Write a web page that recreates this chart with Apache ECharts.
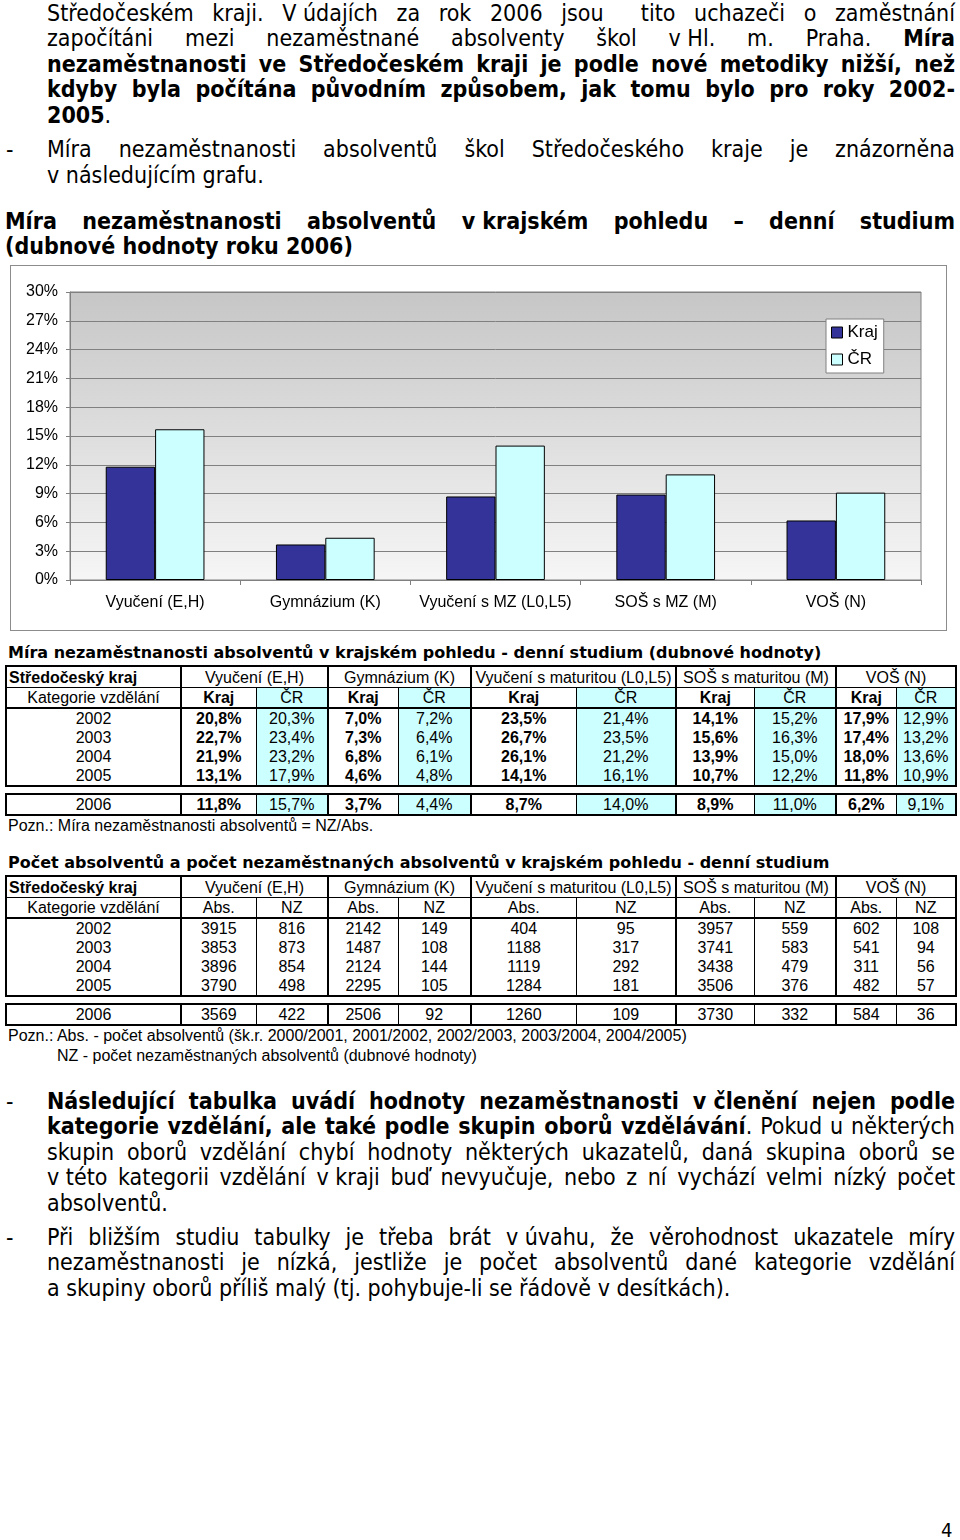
<!DOCTYPE html>
<html><head><meta charset="utf-8">
<script src="https://cdn.jsdelivr.net/npm/echarts@6/dist/echarts.min.js"></script>
<style>
html,body{margin:0;padding:0;background:#fff;}
body{position:relative;width:960px;height:1540px;overflow:hidden;color:#000;}
.ln{position:absolute;height:26px;line-height:26px;white-space:nowrap;font-family:"DejaVu Sans Condensed","DejaVu Sans",sans-serif;font-stretch:condensed;font-size:23px;}
.j{text-align:justify;text-align-last:justify;}
.ib{display:inline-block;}
.tt{position:absolute;left:8px;font-family:"DejaVu Sans",sans-serif;font-weight:bold;font-size:16px;white-space:nowrap;line-height:20px;height:20px;}
.pz{position:absolute;font-family:"Liberation Sans",Arial,sans-serif;font-size:16px;white-space:nowrap;line-height:20px;height:20px;}
table.t{position:absolute;left:5px;width:950px;border-collapse:collapse;table-layout:fixed;border:2px solid #000;font-family:"Liberation Sans",Arial,sans-serif;font-size:16px;}
table.t td{padding:0;border:0;text-align:center;height:19px;line-height:19px;white-space:nowrap;overflow:hidden;}
table.t td.g{border-left:2px solid #000;}
table.t td.s{border-left:1px solid #000;}
table.t tr.h1 td{border-bottom:1px solid #000;height:20px;}
table.t tr.h2 td{border-bottom:2px solid #000;}
table.t td.l{text-align:left;padding-left:2px;}
table.t .b{font-weight:bold;}
table.t .cy{background:#CCFFFF;}
#chart{position:absolute;left:10px;top:265px;width:937px;height:366px;box-sizing:border-box;border:1px solid #8c8c8c;}
</style></head>
<body>
<!-- paragraph 1 -->
<div class="ln j" style="left:47px;width:908px;top:0px">Středočeském kraji. <span class="ib">V&nbsp;údajích</span> za rok 2006 jsou&nbsp; tito uchazeči o zaměstnání</div>
<div class="ln j" style="left:47px;width:908px;top:25px">započítáni mezi nezaměstnané absolventy škol <span class="ib">v&nbsp;Hl.</span> m. Praha. <b>Míra</b></div>
<div class="ln j" style="left:47px;width:908px;top:51px"><b>nezaměstnanosti ve Středočeském kraji je podle nové metodiky nižší, než</b></div>
<div class="ln j" style="left:47px;width:908px;top:76px"><b>kdyby byla počítána původním způsobem, jak tomu bylo pro roky 2002-</b></div>
<div class="ln" style="left:47px;top:102px"><b>2005</b>.</div>
<!-- bullet -->
<div class="ln" style="left:6px;top:136px">-</div>
<div class="ln j" style="left:47px;width:908px;top:136px">Míra nezaměstnanosti absolventů škol Středočeského kraje je znázorněna</div>
<div class="ln" style="left:47px;top:162px"><span class="ib">v&nbsp;následujícím</span> grafu.</div>
<!-- chart title -->
<div class="ln j" style="left:5px;width:950px;top:208px"><b>Míra nezaměstnanosti absolventů <span class="ib">v&nbsp;krajském</span> pohledu – denní studium</b></div>
<div class="ln" style="left:5px;top:233px"><b>(dubnové hodnoty roku 2006)</b></div>

<div id="chart"></div>

<div class="tt" style="top:643px">Míra nezaměstnanosti absolventů v krajském pohledu - denní studium (dubnové hodnoty)</div>
<div id="t1"></div>
<div class="pz" style="left:8px;top:816px">Pozn.: Míra nezaměstnanosti absolventů = NZ/Abs.</div>

<div class="tt" style="top:853px">Počet absolventů a počet nezaměstnaných absolventů v krajském pohledu - denní studium</div>
<div id="t2"></div>
<div class="pz" style="left:8px;top:1026px">Pozn.: Abs. - počet absolventů (šk.r. 2000/2001, 2001/2002, 2002/2003, 2003/2004, 2004/2005)</div>
<div class="pz" style="left:57px;top:1046px">NZ - počet nezaměstnaných absolventů (dubnové hodnoty)</div>

<!-- bottom bullets -->
<div class="ln" style="left:6px;top:1088px">-</div>
<div class="ln j" style="left:47px;width:908px;top:1088px"><b>Následující tabulka uvádí hodnoty nezaměstnanosti <span class="ib">v&nbsp;členění</span> nejen podle</b></div>
<div class="ln j" style="left:47px;width:908px;top:1113px"><b>kategorie vzdělání, ale také podle skupin oborů vzdělávání</b>. Pokud u některých</div>
<div class="ln j" style="left:47px;width:908px;top:1139px">skupin oborů vzdělání chybí hodnoty některých ukazatelů, daná skupina oborů se</div>
<div class="ln j" style="left:47px;width:908px;top:1164px"><span class="ib">v&nbsp;této</span> kategorii vzdělání <span class="ib">v&nbsp;kraji</span> buď nevyučuje, nebo z ní vychází velmi nízký počet</div>
<div class="ln" style="left:47px;top:1190px">absolventů.</div>
<div class="ln" style="left:6px;top:1224px">-</div>
<div class="ln j" style="left:47px;width:908px;top:1224px">Při bližším studiu tabulky je třeba brát <span class="ib">v&nbsp;úvahu,</span> že věrohodnost ukazatele míry</div>
<div class="ln j" style="left:47px;width:908px;top:1249px">nezaměstnanosti je nízká, jestliže je počet absolventů dané kategorie vzdělání</div>
<div class="ln" style="left:47px;top:1275px">a skupiny oborů příliš malý (tj. pohybuje-li se řádově <span class="ib">v&nbsp;desítkách).</span></div>

<div class="ln" style="left:941px;top:1517px;font-size:20px;font-stretch:normal;">4</div>

<script>
// ---- chart data (dubnové hodnoty roku 2006) ----
const categories = ['Vyučení (E,H)', 'Gymnázium (K)', 'Vyučení s MZ (L0,L5)', 'SOŠ s MZ (M)', 'VOŠ (N)'];
const krajValues = [11.8, 3.7, 8.7, 8.9, 6.2];
const crValues = [15.7, 4.4, 14.0, 11.0, 9.1];
const seriesNames = ['Kraj', 'ČR'];
const yMin = 0, yMax = 30, yStep = 3;

// ---- table data ----
const tableGroups = ['Vyučení (E,H)', 'Gymnázium (K)', 'Vyučení s maturitou (L0,L5)', 'SOŠ s maturitou (M)', 'VOŠ (N)'];
const years = ['2002', '2003', '2004', '2005', '2006'];
const rateKraj = [
  [20.8, 7.0, 23.5, 14.1, 17.9],
  [22.7, 7.3, 26.7, 15.6, 17.4],
  [21.9, 6.8, 26.1, 13.9, 18.0],
  [13.1, 4.6, 14.1, 10.7, 11.8],
  [11.8, 3.7, 8.7, 8.9, 6.2]
];
const rateCR = [
  [20.3, 7.2, 21.4, 15.2, 12.9],
  [23.4, 6.4, 23.5, 16.3, 13.2],
  [23.2, 6.1, 21.2, 15.0, 13.6],
  [17.9, 4.8, 16.1, 12.2, 10.9],
  [15.7, 4.4, 14.0, 11.0, 9.1]
];
const absCount = [
  [3915, 2142, 404, 3957, 602],
  [3853, 1487, 1188, 3741, 541],
  [3896, 2124, 1119, 3438, 311],
  [3790, 2295, 1284, 3506, 482],
  [3569, 2506, 1260, 3730, 584]
];
const nzCount = [
  [816, 149, 95, 559, 108],
  [873, 108, 317, 583, 94],
  [854, 144, 292, 479, 56],
  [498, 105, 181, 376, 57],
  [422, 92, 109, 332, 36]
];

// ---- tables ----
const colW = [175, 75, 72, 70, 73, 105, 100, 78, 82, 60, 60];
function pct(v) { return v.toFixed(1).replace('.', ',') + '%'; }
function colgroup() { return '<colgroup>' + colW.map(w => '<col style="width:' + w + 'px">').join('') + '</colgroup>'; }
function buildTables(id, top1, top2, subA, subB, valsA, valsB, fmt, boldA, cyanB) {
  let h = '<table class="t" style="top:' + top1 + 'px">' + colgroup();
  h += '<tr class="h1"><td class="l b">Středočeský kraj</td>' + tableGroups.map(g => '<td colspan="2" class="g">' + g + '</td>').join('') + '</tr>';
  h += '<tr class="h2"><td>Kategorie vzdělání</td>' + tableGroups.map(() =>
    '<td class="g' + (boldA ? ' b' : '') + '">' + subA + '</td><td class="s' + (cyanB ? ' cy' : '') + '">' + subB + '</td>').join('') + '</tr>';
  function row(i) {
    return '<tr><td>' + years[i] + '</td>' + tableGroups.map((g, k) =>
      '<td class="g' + (boldA ? ' b' : '') + '">' + fmt(valsA[i][k]) + '</td><td class="s' + (cyanB ? ' cy' : '') + '">' + fmt(valsB[i][k]) + '</td>').join('') + '</tr>';
  }
  for (let i = 0; i < 4; i++) h += row(i);
  h += '</table>';
  h += '<table class="t" style="top:' + top2 + 'px">' + colgroup() + row(4) + '</table>';
  document.getElementById(id).innerHTML = h;
}
buildTables('t1', 665, 793, 'Kraj', 'ČR', rateKraj, rateCR, pct, true, true);
buildTables('t2', 875, 1003, 'Abs.', 'NZ', absCount, nzCount, v => String(v), false, false);

// ---- chart ----
const chart = echarts.init(document.getElementById('chart'), null, { renderer: 'canvas' });
const font = 'Liberation Sans';
chart.setOption({
  animation: false,
  grid: {
    left: 59, top: 26, width: 851, height: 288, show: true,
    backgroundColor: new echarts.graphic.LinearGradient(0, 0, 0, 1, [
      { offset: 0, color: '#c6c6c6' }, { offset: 1, color: '#f6f6f6' }
    ]),
    borderColor: '#808080', borderWidth: 1
  },
  legend: {
    orient: 'vertical', left: 815, top: 53,
    data: seriesNames,
    icon: 'rect', itemWidth: 11, itemHeight: 11, itemGap: 10,
    padding: [5, 6, 5, 5],
    backgroundColor: '#fff', borderColor: '#808080', borderWidth: 1,
    textStyle: { fontFamily: font, fontSize: 17, color: '#000' },
    itemStyle: { borderColor: '#000', borderWidth: 1 }
  },
  xAxis: {
    type: 'category', data: categories,
    axisLine: { lineStyle: { color: '#808080', width: 1 } },
    axisTick: { show: true, length: 5, lineStyle: { color: '#808080' } },
    axisLabel: { fontFamily: font, fontSize: 16, color: '#000', margin: 15, interval: 0 }
  },
  yAxis: {
    type: 'value', min: yMin, max: yMax, interval: yStep,
    axisLine: { show: true, lineStyle: { color: '#808080' } },
    axisTick: { show: true, length: 4, lineStyle: { color: '#808080' } },
    axisLabel: { fontFamily: font, fontSize: 16, color: '#000', margin: 12, formatter: '{value}%' },
    splitLine: { show: true, lineStyle: { color: '#808080', width: 1 } }
  },
  series: [
    { name: seriesNames[0], type: 'bar', data: krajValues, barGap: '0%', barCategoryGap: '42%',
      itemStyle: { color: '#333399', borderColor: '#000', borderWidth: 1 } },
    { name: seriesNames[1], type: 'bar', data: crValues, barGap: '0%', barCategoryGap: '42%',
      itemStyle: { color: '#CCFFFF', borderColor: '#000', borderWidth: 1 } }
  ]
});
</script>
</body></html>
